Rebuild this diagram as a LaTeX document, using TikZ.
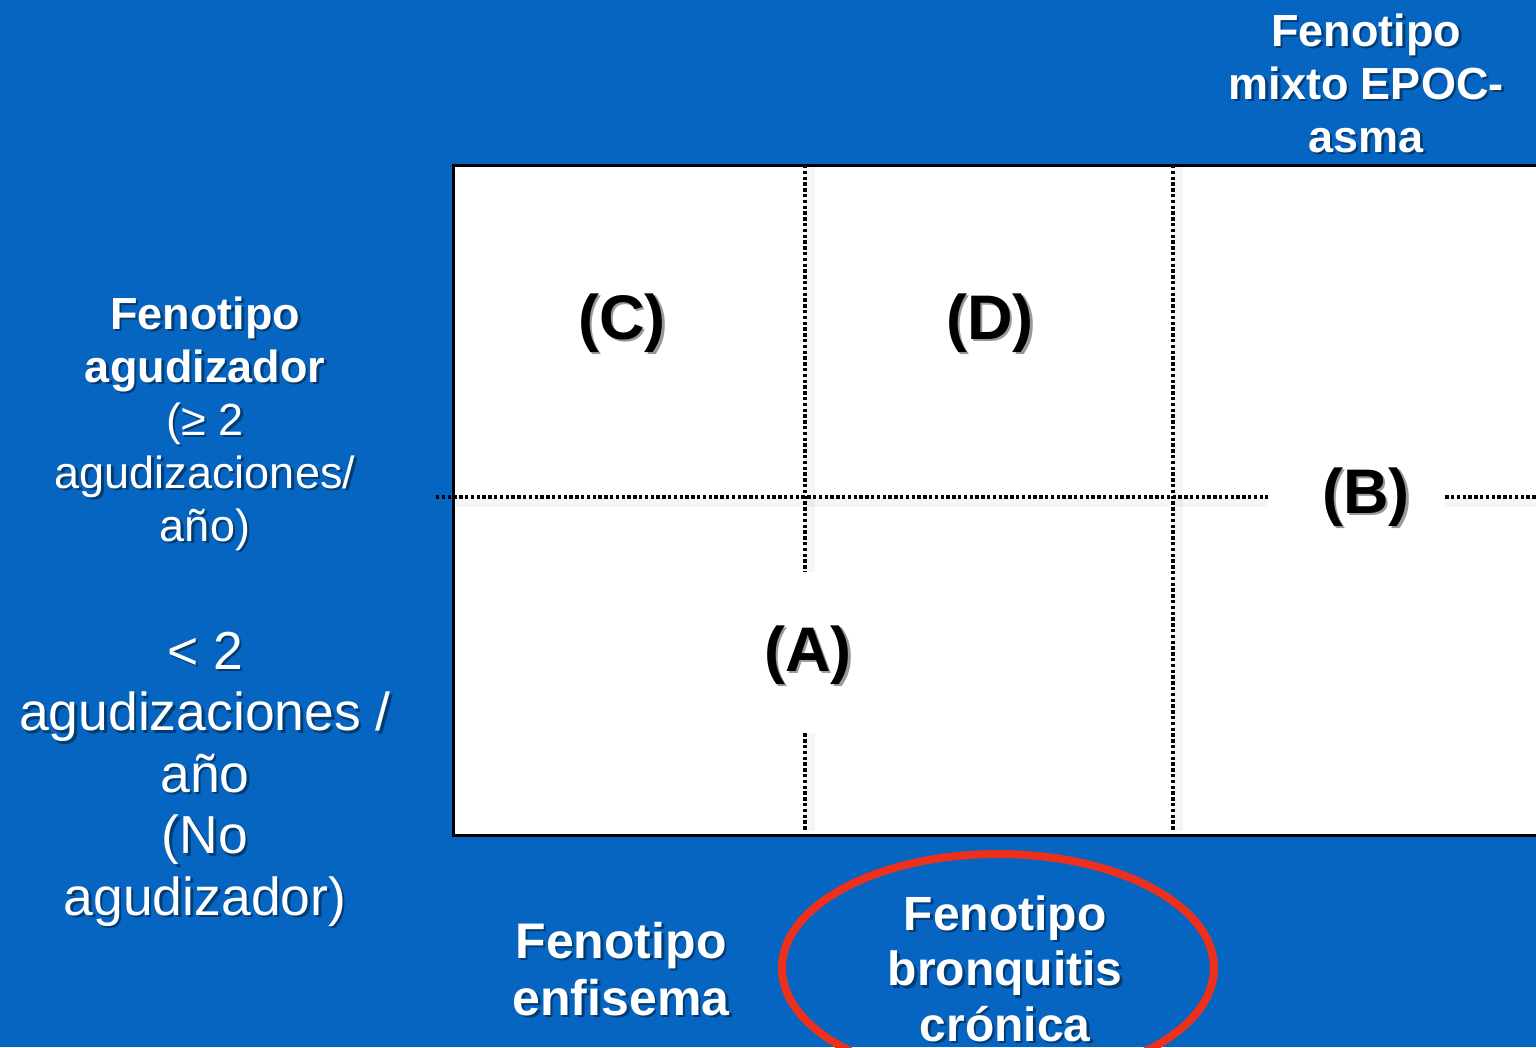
\documentclass[tikz,border=0pt]{standalone}
\usepackage{fontspec}
\setmainfont{Liberation Sans}
\usetikzlibrary{calc}
\definecolor{bg}{RGB}{5,101,192}
\definecolor{ring}{RGB}{236,48,28}
\newcommand\shlabel[4]{%
  \node[#3, text=black, opacity=.4] (#1s) at ($#2+(2.5,2.5)$) {#4};
  \node[#3] (#1) at #2 {#4};}
\begin{document}
\begin{tikzpicture}[x=1pt,y=-1pt,
  side/.style={text=white, align=center, anchor=base, inner sep=0pt},
  quad/.style={text=black, font=\fontsize{63}{70}\selectfont\bfseries, inner sep=0pt},
  gapbox/.style={fill=white, inner sep=0pt},
  dotline/.style={line width=3.6pt, dash pattern=on 3.4pt off 2.4pt},
  lineshade/.style={line width=10pt, black, opacity=.04}]
\fill[bg] (0,0) rectangle (1536,1047);
\useasboundingbox (0,0) rectangle (1536,1047);
\begin{scope}
\clip (0,0) rectangle (1536,1047);
% frame
\node[draw=black, line width=2.5pt, fill=white, anchor=north west, inner sep=0pt,
      minimum width=1110pt, minimum height=670pt] (frame) at (452,164) {};
\coordinate (hl) at (436,497);
\coordinate (hr) at (1540,497);
\coordinate (v1t) at (805,165);
\coordinate (v1b) at (805,831);
\coordinate (v2t) at (1173,165);
\coordinate (v2b) at (1173,831);
% line shadows
\draw[lineshade] ($(hl)+(20,5)$) -- ($(hr)+(0,5)$);
\draw[lineshade] ($(v1t)+(5,0)$) -- ($(v1b)+(5,0)$);
\draw[lineshade] ($(v2t)+(5,0)$) -- ($(v2b)+(5,0)$);
% dotted dividers
\draw[dotline] (hl) -- (hr);
\draw[dotline] (v1t) -- (v1b);
\draw[dotline] (v2t) -- (v2b);
% gaps for labels
\node[gapbox, minimum width=100pt, minimum height=161pt] (gapA) at (808,652.5) {};
\node[gapbox, minimum width=177pt, minimum height=70pt] (gapB) at (1356.5,497) {};
% quadrant labels
\shlabel{C}{(622,323)}{quad}{(C)}
\shlabel{D}{(990,323)}{quad}{(D)}
\shlabel{B}{(1366,497)}{quad}{(B)}
\shlabel{A}{(808,655)}{quad}{(A)}
\end{scope}
% side labels (anchor = baseline of last line)
\shlabel{agud}{(205,541)}{side, font=\fontsize{45}{53}\selectfont}{\textbf{Fenotipo}\\\textbf{agudizador}\\(≥ 2\\agudizaciones/\\año)}
\shlabel{noagud}{(205,915)}{side, font=\fontsize{53.5}{61.5}\selectfont}{< 2\\agudizaciones /\\año\\(No\\agudizador)}
\shlabel{mixto}{(1366,152)}{side, font=\fontsize{45}{53}\selectfont\bfseries}{Fenotipo\\mixto EPOC-\\asma}
\shlabel{enf}{(621,1015)}{side, font=\fontsize{50}{57}\selectfont\bfseries}{Fenotipo\\enfisema}
\shlabel{bron}{(1005,1041)}{side, font=\fontsize{48}{55.5}\selectfont\bfseries}{Fenotipo\\bronquitis\\crónica}
% highlight ring
\draw[ring, line width=8pt] (998,968) ellipse [x radius=216, y radius=114];
\end{tikzpicture}
\end{document}
